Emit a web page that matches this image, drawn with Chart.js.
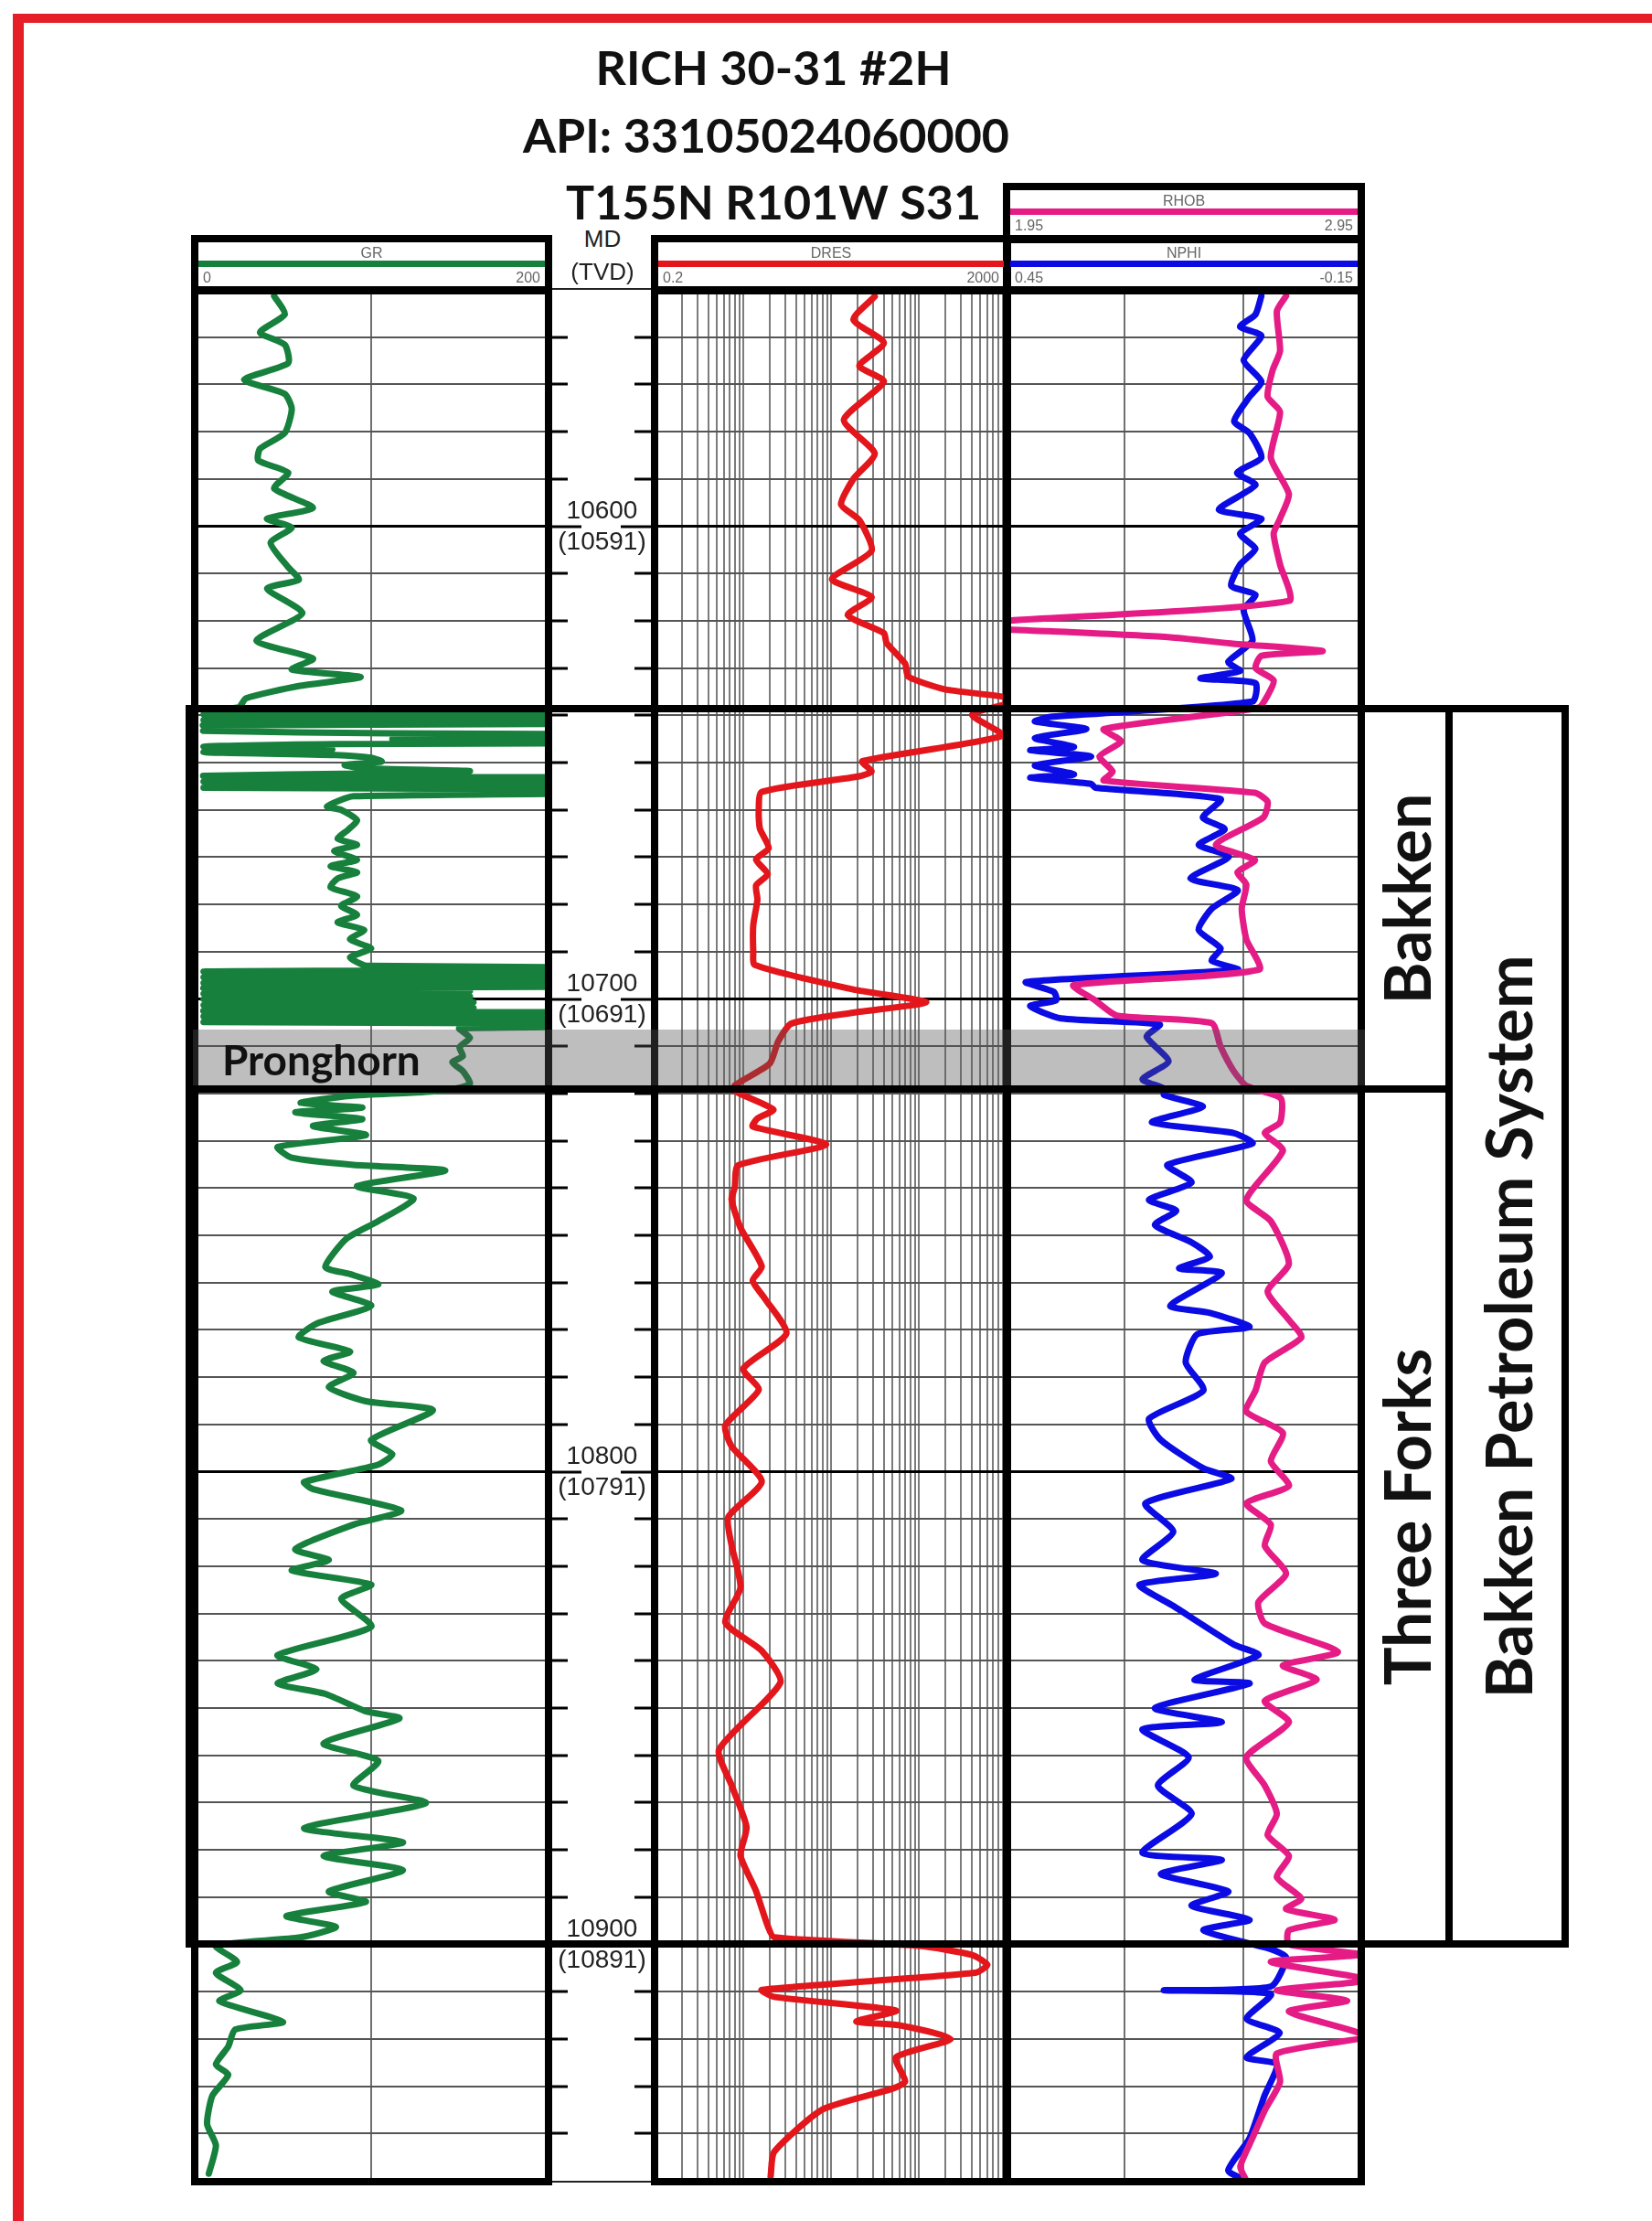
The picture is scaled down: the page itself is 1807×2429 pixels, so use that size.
<!DOCTYPE html>
<html>
<head>
<meta charset="utf-8">
<script src="https://cdn.jsdelivr.net/npm/chart.js@4.4.1/dist/chart.umd.min.js"></script>
<style>
  html, body { margin: 0; padding: 0; background: #fff; }
  #page { position: relative; width: 1807px; height: 2429px; overflow: hidden; background: #fff; }
  .box { position: absolute; border: 8px solid #000; box-sizing: border-box; }
  .bar { position: absolute; background: #000; }
  .title { position: absolute; font-family: Lato, "Open Sans", sans-serif; font-weight: 700; font-size: 52px;
           color: #111; white-space: nowrap; transform: translate(-50%, -50%); }
  .hdr { position: absolute; font-family: "Liberation Sans Narrow", "Liberation Sans", Arial, sans-serif;
         font-size: 16px; color: #666; white-space: nowrap; transform: translateY(-50%); }
  .depthHdr { position: absolute; font-family: "Liberation Sans", Arial, sans-serif; font-size: 26px; color: #222;
              white-space: nowrap; transform: translate(-50%, -50%); }
  .zone { position: absolute; font-family: Lato, "Open Sans", sans-serif; font-weight: 700; color: #111;
          white-space: nowrap; }
</style>
</head>
<body>
<div id="page"></div>
<script>
// ---- log readings (depth in ft MD, value in curve units) ----
const grDepth = [
  10551.3, 10555.2, 10559.0, 10561.6, 10565.5, 10569.0, 10572.0, 10575.2, 10580.3, 10583.6,
  10586.1, 10588.7, 10592.0, 10596.1, 10598.4, 10600.3, 10603.5, 10608.7, 10611.3, 10613.2,
  10618.4, 10624.2, 10628.0, 10630.3, 10631.9, 10633.8, 10636.4, 10638.3,
  10638.8, 10639.3, 10639.8, 10640.4, 10641.0, 10641.6, 10642.1, 10642.7, 10643.3, 10643.8,
  10644.4, 10645.0, 10645.6, 10646.1, 10646.6, 10647.2, 10647.8, 10648.4, 10649.0, 10649.8,
  10650.5, 10651.2, 10651.8, 10652.3, 10652.8, 10653.4, 10654.0, 10654.6, 10655.3, 10656.0,
  10657.1, 10659.3, 10660.0, 10662.2, 10664.2, 10666.1, 10667.4, 10668.7, 10670.6, 10671.9,
  10673.2, 10674.5, 10676.4, 10678.3, 10680.3, 10682.2, 10683.8, 10685.4, 10687.4, 10689.3,
  10691.2, 10693.0,
  10693.6, 10694.2, 10694.8, 10695.4, 10696.0, 10696.6, 10697.2, 10697.7, 10698.3, 10698.9,
  10699.5, 10700.1, 10700.7, 10701.3, 10701.9, 10702.5, 10703.1, 10703.7, 10704.3, 10704.9,
  10705.5, 10706.2,
  10708.2, 10710.2, 10712.1, 10713.4, 10715.3, 10717.9, 10718.8,
  10719.7, 10720.5, 10722.0, 10723.0, 10724.0, 10725.4, 10726.9, 10728.8, 10731.3, 10733.6,
  10735.1, 10736.3, 10739.6, 10742.2, 10747.0, 10750.7, 10756.7, 10758.2, 10760.4, 10761.9,
  10764.9, 10768.7, 10771.6, 10774.6, 10776.6, 10779.1, 10782.1, 10785.1, 10787.0, 10793.3,
  10796.3, 10798.5, 10802.2, 10803.7, 10808.2, 10811.2, 10816.4, 10818.7, 10820.9, 10823.9,
  10826.9, 10832.8, 10838.8, 10841.8, 10844.8, 10847.0, 10850.7, 10852.2, 10857.5, 10861.2,
  10866.4, 10870.1, 10875.4, 10878.4, 10881.3, 10884.3, 10888.8, 10891.0, 10894.0, 10896.3,
  10898.5,
  10900.3, 10903.7, 10906.0, 10909.7, 10912.0, 10916.4, 10918.0, 10921.6, 10925.4, 10927.6,
  10932.0, 10938.0, 10942.5, 10948.5
];
const grValue = [
  45, 51, 37, 51, 53, 28, 51, 55, 51, 37,
  36, 53, 45, 67, 41, 55, 43, 53, 59, 41,
  61, 35, 67, 55, 94, 59, 29, 25,
  5, 420, 5, 420, 5, 420, 5, 25, 5, 110,
  420, 112, 420, 80, 5, 78, 5, 80, 100, 106,
  85, 95, 156, 95, 5, 420, 5, 420, 5, 420,
  90, 75, 83, 92, 87, 81, 92, 79, 92, 77,
  92, 81, 77, 92, 83, 92, 81, 96, 88, 100,
  88, 98,
  420, 5, 420, 5, 420, 5, 420, 5, 156, 5,
  156, 5, 158, 5, 158, 5, 420, 5, 420, 5,
  420, 150,
  156, 150, 152, 146, 152, 156, 150,
  130, 88, 60, 95, 57, 95, 67, 97, 47, 55,
  90, 142, 92, 124, 104, 86, 74, 88, 104, 78,
  100, 69, 59, 88, 73, 90, 76, 97, 135, 100,
  112, 104, 62, 67, 117, 90, 57, 76, 55, 100,
  83, 100, 47, 69, 47, 74, 97, 116, 73, 104,
  90, 131, 62, 118, 73, 118, 76, 97, 52, 80,
  60,
  12, 24, 12, 26, 14, 50, 23, 19, 12, 19,
  10, 7, 12, 8
];

const dresDepth = [
  10551.4, 10556.3, 10561.2, 10566.1, 10569.4, 10577.5, 10584.6, 10590.0, 10595.4, 10598.7,
  10605.2, 10611.2, 10615.0, 10618.8, 10622.6, 10624.7, 10629.1, 10631.8, 10634.5, 10636.1,
  10637.2, 10639.9, 10644.3, 10649.7, 10651.9, 10652.9, 10656.2, 10660.5, 10664.0, 10668.1,
  10670.5, 10673.6, 10676.0, 10679.0, 10684.4, 10690.0, 10692.8, 10698.0, 10700.7, 10702.9,
  10705.2, 10709.0, 10713.7, 10718.3, 10719.5, 10723.4, 10725.3, 10727.0, 10730.8, 10735.2,
  10739.9, 10742.4, 10748.4, 10756.6, 10759.6, 10763.3, 10770.8, 10778.2, 10782.7, 10790.2,
  10794.6, 10802.1, 10809.6, 10815.5, 10824.5, 10831.9, 10837.9, 10844.6, 10858.8, 10866.3,
  10875.2, 10881.2, 10888.6, 10896.1, 10898.5, 10900.3, 10902.2, 10904.3, 10906.0, 10909.6,
  10911.1, 10914.0, 10916.3, 10917.1, 10920.0, 10923.9, 10929.0, 10930.5, 10934.9, 10943.9,
  10949.1
];
const dresValue = [
  63, 36, 80, 42, 80, 28, 63, 36, 26, 42,
  58, 20.5, 58, 31, 80, 86, 140, 151, 394, 1875,
  2300, 810, 1804, 45.5, 58, 42, 3.25, 3.0, 3.1, 3.9,
  2.8, 3.8, 2.8, 2.9, 2.6, 2.6, 2.7, 35.8, 244, 35.8,
  7.1, 5.0, 4.0, 1.6, 1.6, 4.4, 2.9, 2.56, 17.6, 1.75,
  1.6, 1.47, 1.86, 3.25, 2.56, 3.5, 6.2, 2.0, 3.0, 1.25,
  1.47, 3.25, 1.35, 1.47, 1.86, 1.25, 3.25, 5.3, 1.06, 1.47,
  2.18, 1.86, 2.78, 3.8, 4.5, 200, 800, 1208, 883, 3.25,
  4.5, 110, 38.8, 119, 463, 110, 140, 101, 16.1, 4.5,
  4.1
];

const nphiDepth = [
  10551.3, 10555.2, 10557.8, 10559.7, 10564.9, 10569.4, 10572.6, 10577.8, 10580.3, 10585.5,
  10588.7, 10591.3, 10596.5, 10598.4, 10601.6, 10604.8, 10608.1, 10612.6, 10614.5, 10617.7,
  10624.2, 10628.7, 10630.6, 10632.2, 10633.2, 10637.1, 10640.3, 10641.3, 10642.9, 10644.8,
  10646.7, 10647.4, 10648.7, 10650.6, 10652.5, 10653.2, 10654.5, 10655.3, 10657.7, 10661.6,
  10664.1, 10667.4, 10669.9, 10674.5, 10677.0, 10680.9, 10685.4, 10689.3, 10691.9, 10693.8,
  10696.4, 10698.5, 10700.3, 10701.5, 10704.1, 10705.4, 10708.0, 10713.2, 10717.0, 10719.0,
  10720.3, 10722.8, 10726.1, 10728.4, 10730.6, 10735.1, 10738.8, 10742.5, 10744.8, 10747.8,
  10751.5, 10754.5, 10757.0, 10758.0, 10764.9, 10766.4, 10769.4, 10770.9, 10776.9, 10782.8,
  10788.8, 10793.3, 10799.3, 10801.5, 10806.7, 10812.7, 10818.7, 10821.6, 10823.9, 10828.4,
  10836.6, 10838.8, 10844.0, 10844.8, 10850.0, 10853.0, 10854.5, 10860.4, 10866.4, 10872.4,
  10880.6, 10882.1, 10885.1, 10888.8, 10891.8, 10894.8, 10897.0, 10901.0, 10902.8, 10908.9,
  10909.7, 10910.5, 10915.7, 10918.7, 10923.9, 10925.4, 10932.1, 10941.0, 10947.8, 10950.0
];
const nphiValue = [
  0.019, 0.029, 0.055, 0.019, 0.049, 0.019, 0.039, 0.065, 0.039, 0.019,
  0.060, 0.029, 0.091, 0.019, 0.055, 0.029, 0.055, 0.070, 0.029, 0.049,
  0.034, 0.075, 0.055, 0.122, 0.029, 0.034, 0.373, 0.402, 0.315, 0.402,
  0.336, 0.410, 0.307, 0.402, 0.336, 0.410, 0.307, 0.300, 0.088, 0.118,
  0.081, 0.125, 0.074, 0.139, 0.059, 0.103, 0.125, 0.088, 0.103, 0.059,
  0.417, 0.370, 0.366, 0.410, 0.358, 0.191, 0.213, 0.176, 0.220, 0.183,
  0.184, 0.118, 0.204, 0.065, 0.034, 0.178, 0.137, 0.209, 0.163, 0.199,
  0.137, 0.106, 0.158, 0.086, 0.173, 0.106, 0.039, 0.127, 0.147, 0.117,
  0.209, 0.189, 0.117, 0.070, 0.215, 0.168, 0.220, 0.096, 0.225, 0.168,
  0.065, 0.024, 0.132, 0.039, 0.199, 0.086, 0.220, 0.142, 0.194, 0.137,
  0.220, 0.086, 0.189, 0.075, 0.137, 0.039, 0.117, 0.003, -0.023, 0.003,
  0.184, 0.003, 0.044, -0.012, 0.044, -0.007, 0.014, 0.039, 0.075, 0.044
];

const rhobDepth = [
  10551.3, 10554.5, 10562.9, 10567.0, 10572.6, 10575.8, 10585.5, 10593.2, 10598.4, 10601.6,
  10608.1, 10615.8, 10620.3, 10621.6, 10622.2, 10623.5, 10624.8, 10626.4, 10627.4, 10630.0,
  10632.6, 10635.8, 10638.4, 10642.9, 10645.5, 10648.7, 10651.9, 10653.8, 10656.4, 10658.3,
  10661.6, 10667.4, 10670.6, 10673.2, 10675.8, 10680.9, 10687.4, 10693.8, 10697.1, 10700.3,
  10703.5, 10705.1, 10710.0, 10715.1, 10718.4, 10721.0, 10726.1, 10728.4, 10732.1, 10742.5,
  10747.0, 10756.0, 10761.9, 10767.9, 10771.6, 10776.9, 10782.8, 10787.3, 10791.8, 10797.8,
  10803.0, 10806.7, 10811.2, 10815.7, 10821.6, 10827.6, 10832.1, 10838.1, 10841.0, 10844.0,
  10848.5, 10853.0, 10860.4, 10866.4, 10872.4, 10876.9, 10881.3, 10885.8, 10890.3, 10892.5,
  10894.8, 10897.0, 10900.0, 10902.2, 10903.7, 10907.5, 10909.7, 10911.9, 10914.2, 10919.4,
  10923.1, 10929.1, 10935.1, 10941.0, 10947.0, 10950.0
];
const rhobValue = [
  2.738, 2.712, 2.721, 2.700, 2.686, 2.721, 2.695, 2.746, 2.721, 2.703,
  2.721, 2.746, 1.900, 1.900, 2.068, 2.411, 2.583, 2.841, 2.669, 2.652,
  2.703, 2.686, 2.660, 2.224, 2.273, 2.212, 2.249, 2.224, 2.650, 2.686,
  2.674, 2.540, 2.650, 2.601, 2.626, 2.613, 2.626, 2.662, 2.139, 2.200,
  2.261, 2.528, 2.553, 2.589, 2.626, 2.723, 2.721, 2.678, 2.729, 2.626,
  2.695, 2.746, 2.686, 2.746, 2.781, 2.678, 2.652, 2.626, 2.729, 2.695,
  2.746, 2.626, 2.695, 2.678, 2.738, 2.660, 2.678, 2.884, 2.729, 2.824,
  2.678, 2.746, 2.626, 2.678, 2.712, 2.686, 2.746, 2.712, 2.781, 2.738,
  2.875, 2.746, 2.746, 2.953, 2.695, 2.970, 2.712, 2.910, 2.746, 2.961,
  2.712, 2.721, 2.678, 2.643, 2.609, 2.626
];

// depth axis labels and formation tops
const mdLabels = [10600, 10700, 10800, 10900];
const tvdLabels = ['(10591)', '(10691)', '(10791)', '(10891)'];
const topBakken = 10638.5;
const topPronghorn = 10706.5;
const topThreeForks = 10719;
const baseThreeForks = 10900;

// track scales
const grRange = [0, 200];
const dresRange = [0.2, 2000];
const nphiRange = [-0.15, 0.45];
const rhobRange = [1.95, 2.95];
const nphiGrid = [-0.15, 0.05, 0.25, 0.45];
const dresDecades = [0.2, 2, 20, 200];

const GREEN = '#16803c', RED = '#e3161c', BLUE = '#0b0be3', PINK = '#e51c86';

// ---- layout ----
const page = document.getElementById('page');
const PLOT_TOP = 317, PLOT_H = 2068;
const DMIN = 10550, DMAX = 10950;

function el(cls, css, text) {
  const d = document.createElement('div');
  if (cls) d.className = cls;
  d.style.cssText = css;
  if (text !== undefined) d.textContent = text;
  page.appendChild(d);
  return d;
}

function makeCanvas(left, width) {
  const c = document.createElement('canvas');
  c.width = width; c.height = PLOT_H;
  c.style.cssText = `position:absolute;left:${left}px;top:${PLOT_TOP}px;width:${width}px;height:${PLOT_H}px;`;
  page.appendChild(c);
  return c;
}

function pts(depths, values) {
  return depths.map((d, i) => ({ x: values[i], y: d }));
}

function depthAxis(showGrid) {
  return {
    type: 'linear', min: DMIN, max: DMAX, reverse: true,
    ticks: { display: false, stepSize: 10 },
    border: { display: false },
    grid: {
      display: showGrid, drawTicks: false,
      color: c => (c.tick.value % 100 === 0 ? '#000' : '#555'),
      lineWidth: c => (c.tick.value % 100 === 0 ? 3 : 2)
    }
  };
}

function baseOptions(scales) {
  return {
    responsive: false, animation: false, devicePixelRatio: 1, events: [],
    indexAxis: 'y',
    layout: { padding: 0 },
    plugins: { legend: { display: false }, tooltip: { enabled: false } },
    elements: { point: { radius: 0 }, line: { borderWidth: 7, tension: 0.2, borderCapStyle: 'round', borderJoinStyle: 'round' } },
    scales
  };
}

// GR track
const grChart = new Chart(makeCanvas(213, 386), {
  type: 'line',
  data: { datasets: [{ data: pts(grDepth, grValue), borderColor: GREEN }] },
  options: baseOptions({
    x: { type: 'linear', min: grRange[0], max: grRange[1], ticks: { display: false, stepSize: 100 },
         border: { display: false }, grid: { drawTicks: false, color: '#707070', lineWidth: 2 } },
    y: depthAxis(true)
  })
});

// depth track
const depthTicks = {
  id: 'depthTicks',
  afterDraw(chart) {
    const { ctx, width } = chart;
    const y = chart.scales.y;
    ctx.save();
    ctx.strokeStyle = '#000';
    ctx.lineWidth = 3;
    y.ticks.forEach(t => {
      if (t.value <= DMIN || t.value >= DMAX) return;
      const py = Math.round(y.getPixelForValue(t.value));
      const len = mdLabels.includes(t.value) ? 32 : 17;
      ctx.beginPath();
      ctx.moveTo(0, py); ctx.lineTo(len, py);
      ctx.moveTo(width - len - 2, py); ctx.lineTo(width, py);
      ctx.stroke();
    });
    ctx.fillStyle = '#222';
    ctx.font = '28px "Liberation Sans", Arial, sans-serif';
    ctx.textAlign = 'center';
    ctx.textBaseline = 'middle';
    mdLabels.forEach((md, i) => {
      const py = y.getPixelForValue(md);
      ctx.fillText(String(md), width / 2, py - 16);
      ctx.fillText(tvdLabels[i], width / 2, py + 18);
    });
    ctx.restore();
  }
};
new Chart(makeCanvas(604, 109), {
  type: 'line',
  data: { datasets: [] },
  options: baseOptions({
    x: { type: 'linear', min: 0, max: 1, display: false },
    y: depthAxis(false)
  }),
  plugins: [depthTicks]
});

// DRES track (log)
new Chart(makeCanvas(717, 384), {
  type: 'line',
  data: { datasets: [{ data: pts(dresDepth, dresValue), borderColor: RED }] },
  options: baseOptions({
    x: {
      type: 'logarithmic', min: dresRange[0], max: dresRange[1],
      ticks: { display: false },
      afterBuildTicks: s => {
        const t = [];
        dresDecades.forEach(d => { for (let k = 1; k <= 10; k++) t.push({ value: d * k }); });
        s.ticks = t;
      },
      border: { display: false },
      grid: { drawTicks: false, color: '#7c7c7c', lineWidth: 2 }
    },
    y: depthAxis(true)
  })
});

// NPHI / RHOB track
new Chart(makeCanvas(1101, 388), {
  type: 'line',
  data: {
    datasets: [
      { data: pts(rhobDepth, rhobValue), borderColor: PINK, xAxisID: 'x2' },
      { data: pts(nphiDepth, nphiValue), borderColor: BLUE, xAxisID: 'x' }
    ]
  },
  options: baseOptions({
    x: {
      type: 'linear', min: nphiRange[0], max: nphiRange[1], reverse: true,
      ticks: { display: false },
      afterBuildTicks: s => { s.ticks = nphiGrid.map(v => ({ value: v })); },
      border: { display: false },
      grid: { drawTicks: false, color: '#707070', lineWidth: 2 }
    },
    x2: { type: 'linear', min: rhobRange[0], max: rhobRange[1], display: false },
    y: depthAxis(true)
  })
});

// ---- frames and headers ----
function frame(l, t, r, b) { el('box', `left:${l}px;top:${t}px;width:${r - l}px;height:${b - t}px;`); }

// red page frame
el('', 'position:absolute;left:14px;top:15px;width:1793px;height:10px;background:#e61e28;');
el('', 'position:absolute;left:14px;top:15px;width:12px;height:2414px;background:#e61e28;');

// titles
el('title', 'left:846px;top:73px;', 'RICH 30-31 #2H');
el('title', 'left:838px;top:147px;', 'API: 33105024060000');
el('title', 'left:846px;top:220px;', 'T155N R101W S31');

// track frames
frame(209, 257, 604, 322); frame(209, 313, 604, 2390);
frame(712, 257, 1106, 322); frame(712, 313, 1106, 2390);
frame(1097, 200, 1493, 266); frame(1097, 257, 1493, 322); frame(1097, 313, 1493, 2390);
el('', 'position:absolute;left:604px;top:315px;width:108px;height:2px;background:#222;');
el('', 'position:absolute;left:604px;top:2385px;width:108px;height:2px;background:#222;');

function header(l, r, top, name, color, lo, hi) {
  const cx = (l + r) / 2;
  el('hdr', `left:${cx}px;top:${top + 12}px;transform:translate(-50%,-50%);`, name);
  el('', `position:absolute;left:${l}px;top:${top + 20}px;width:${r - l}px;height:7px;background:${color};`);
  el('hdr', `left:${l + 5}px;top:${top + 39}px;`, lo);
  el('hdr', `left:${r - 5}px;top:${top + 39}px;transform:translate(-100%,-50%);`, hi);
}
header(217, 596, 265, 'GR', GREEN, '0', '200');
header(720, 1098, 265, 'DRES', RED, '0.2', '2000');
header(1105, 1485, 265, 'NPHI', BLUE, '0.45', '-0.15');
header(1105, 1485, 208, 'RHOB', PINK, '1.95', '2.95');
el('depthHdr', 'left:659px;top:261px;', 'MD');
el('depthHdr', 'left:659px;top:297px;', '(TVD)');

// ---- formation zones, placed through the depth scale ----
const ys = grChart.scales.y;
const yPix = d => PLOT_TOP + ys.getPixelForValue(d);
const yB = yPix(topBakken), yP = yPix(topPronghorn), yT = yPix(topThreeForks), yE = yPix(baseThreeForks);

el('', `position:absolute;left:209px;top:${yP}px;width:1284px;height:${yT - yP}px;background:rgba(85,85,85,0.38);`);
frame(203, yB - 4, 1716, yE + 4);
el('bar', `left:1581px;top:${yB}px;width:8px;height:${yE - yB}px;`);
el('bar', `left:203px;top:${yT - 4}px;width:1386px;height:8px;`);

el('zone', `left:243px;top:${(yP + yT) / 2}px;font-size:46px;transform:translateY(-50%);`, 'Pronghorn');
el('zone', `left:1538px;top:${(yB + yT) / 2}px;font-size:70px;transform:translate(-50%,-50%) rotate(-90deg);`, 'Bakken');
el('zone', `left:1538px;top:${(yT + yE) / 2}px;font-size:70px;transform:translate(-50%,-50%) rotate(-90deg);`, 'Three Forks');
el('zone', `left:1649px;top:${(yB + yE) / 2}px;font-size:70px;transform:translate(-50%,-50%) rotate(-90deg);`, 'Bakken Petroleum System');
</script>
</body>
</html>
